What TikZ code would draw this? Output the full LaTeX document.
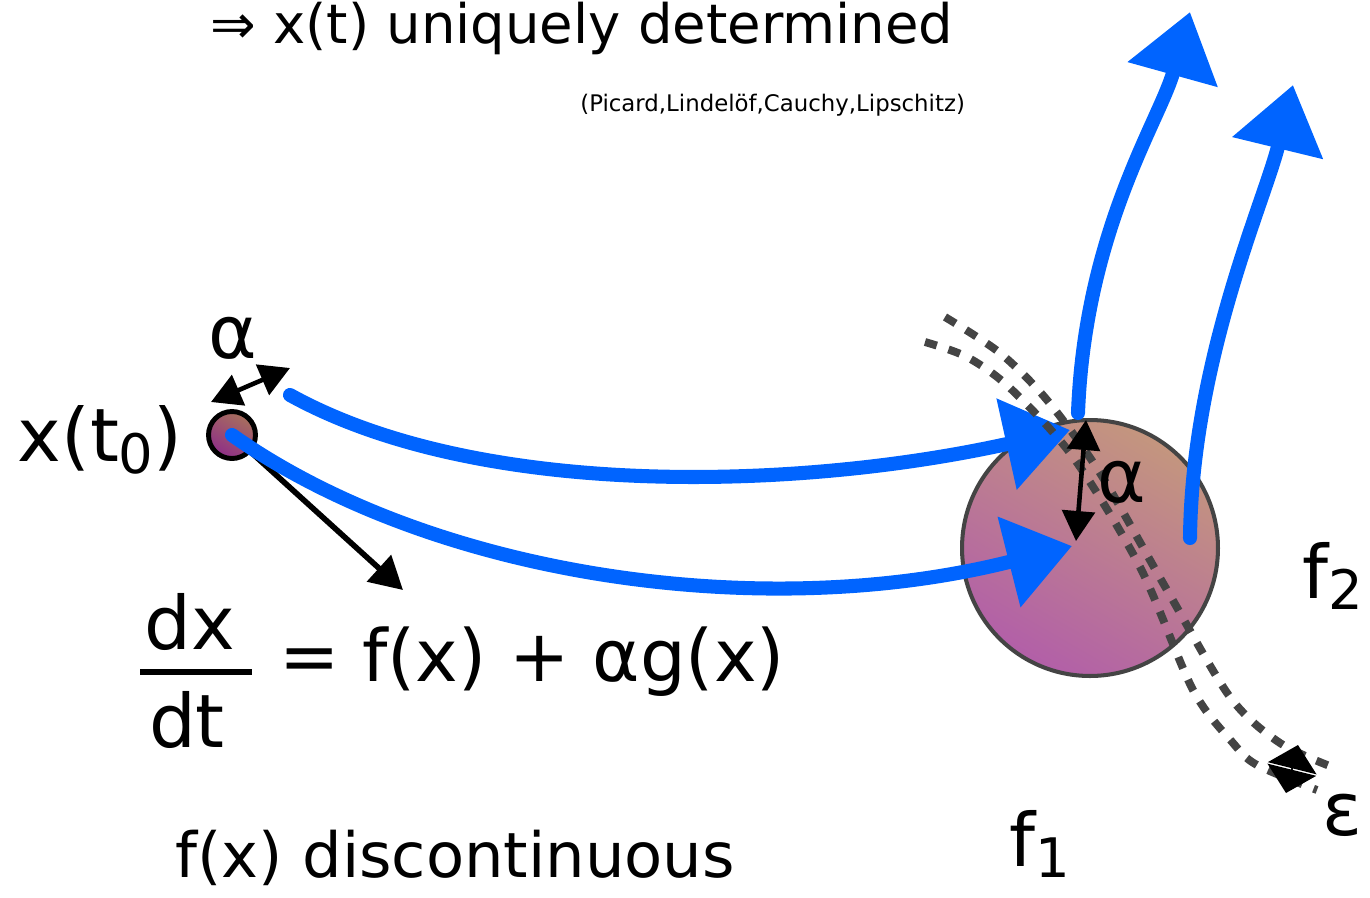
\documentclass[tikz,border=0pt]{standalone}
\usepackage{fontspec}
\setmainfont{DejaVu Sans}
\usetikzlibrary{arrows.meta,positioning,calc}
\definecolor{chalkblue}{HTML}{0064FF}
\definecolor{dashgray}{HTML}{444444}
\definecolor{balltop}{HTML}{C4967E}
\definecolor{ballbot}{HTML}{B25FA8}
\definecolor{dottop}{HTML}{A8705C}
\definecolor{dotbot}{HTML}{8E2E88}
\newcommand{\lowsub}[1]{\raisebox{-0.16em}{\fontsize{31}{36}\selectfont #1}}

\begin{document}
\begin{tikzpicture}[x=0.02cm, y=-0.02cm,
  chalk/.style={chalkblue, line width=8pt, line cap=round,
    -{Triangle[length=1.3cm, width=1.8cm]}},
  blackarr/.style={line width=3.2pt, -{Triangle[length=0.65cm, width=0.7cm]}},
  gaparr/.style={line width=2.6pt,
    {Triangle[length=0.6cm, width=0.65cm]}-{Triangle[length=0.6cm, width=0.65cm]}},
  boundary/.style={dashgray, line width=4.5pt, dash pattern=on 7pt off 7pt},
  big/.style={inner sep=0pt, font=\fontsize{42}{50}\selectfont}]
  \useasboundingbox (0,0) rectangle (1370,897);

  %% ── Headline ─────────────────────────────────────────────
  \node[anchor=base west, inner sep=0pt, font=\fontsize{31}{37}\selectfont]
    (claim) at (210,43) {⇒ x(t) uniquely determined};
  \node[anchor=base west, inner sep=0pt, font=\fontsize{13}{15}\selectfont]
    (names) at (580,111) {(Picard,Lindelöf,Cauchy,Lipschitz)};

  %% ── Left: start point and the equation ──────────────────
  \node[circle, draw=black, line width=2.8pt, minimum size=0.94cm, inner sep=0pt,
    top color=dottop, bottom color=dotbot, shading angle=-30] (x0) at (232,435) {};
  \node[big] (x0lbl) at (100,440) {x(t\lowsub{0})};
  \node[big] (alphaL) at (233,338) {α};
  \coordinate (spreadA) at (211,402);
  \coordinate (spreadB) at (290,368);
  \draw[gaparr] (spreadA) -- (spreadB);
  \coordinate (slopetip) at (403,590);
  \draw[blackarr] (x0) -- (slopetip);

  %% dx/dt = f(x) + alpha g(x)
  \node[big] (dx) at (190,622) {dx};
  \node[big] (dt) at (187,720) {dt};
  \draw[line width=3.2pt] (140,672) -- (252,672);
  \node[big, font=\fontsize{41}{49}\selectfont] (rhs) at (532,662) {= f(x) + αg(x)};
  \node[big, font=\fontsize{35.5}{42}\selectfont] (disc) at (455,858) {f(x) discontinuous};

  %% ── Right: the ball of end points ───────────────────────
  \node[circle, draw=dashgray, line width=2.3pt, minimum size=5.12cm, inner sep=0pt,
    top color=balltop, bottom color=ballbot, shading angle=-30] (ball) at (1090,548) {};

  %% trajectories (blue chalk)
  \coordinate (upstart) at (290,395);
  \coordinate (uptip) at (1070,430);
  \coordinate (lowtip) at (1072,546);
  \draw[chalk] (upstart) .. controls (480,500) and (800,490) .. (uptip);
  \draw[chalk] (x0.center) .. controls (430,575) and (760,625) .. (lowtip);
  \coordinate (riseAfoot) at (1078,413);
  \coordinate (riseAtip) at (1190,12);
  \coordinate (riseBfoot) at (1190,538);
  \coordinate (riseBtip) at (1293,85);
  \draw[chalk] (riseAfoot) .. controls (1085,230) and (1160,120) .. (riseAtip);
  \draw[chalk] (riseBfoot) .. controls (1192,360) and (1265,200) .. (riseBtip);

  %% discontinuity band
  \draw[boundary] plot[smooth] coordinates {(945,317) (1000,353) (1047,400)
    (1100,473) (1167,590) (1230,697) (1280,743) (1335,768)};
  \draw[boundary] plot[smooth] coordinates {(925,342) (967,357) (1010,388)
    (1073,457) (1140,567) (1193,690) (1233,743) (1257,765) (1317,790)};

  %% widths alpha and epsilon
  \coordinate (gapTop) at (1086,420);
  \coordinate (gapBot) at (1076,541);
  \draw[gaparr] (gapTop) -- (gapBot);
  \node[big] (alphaR) at (1122,482) {α};
  \coordinate (epsLow) at (1286,793);
  \coordinate (epsHigh) at (1298,745);
  \draw[line width=1pt, {Triangle[length=0.48cm, width=1cm]}-{Triangle[length=0.48cm, width=1cm]}]
    (epsLow) -- (epsHigh);
  \node[big] (eps) at (1342,815) {ε};

  %% region labels
  \node[big, anchor=base west] (f2) at (1302,598) {f\lowsub{2}};
  \node[big, anchor=base] (f1) at (1040,866) {f\lowsub{1}};
\end{tikzpicture}
\end{document}
